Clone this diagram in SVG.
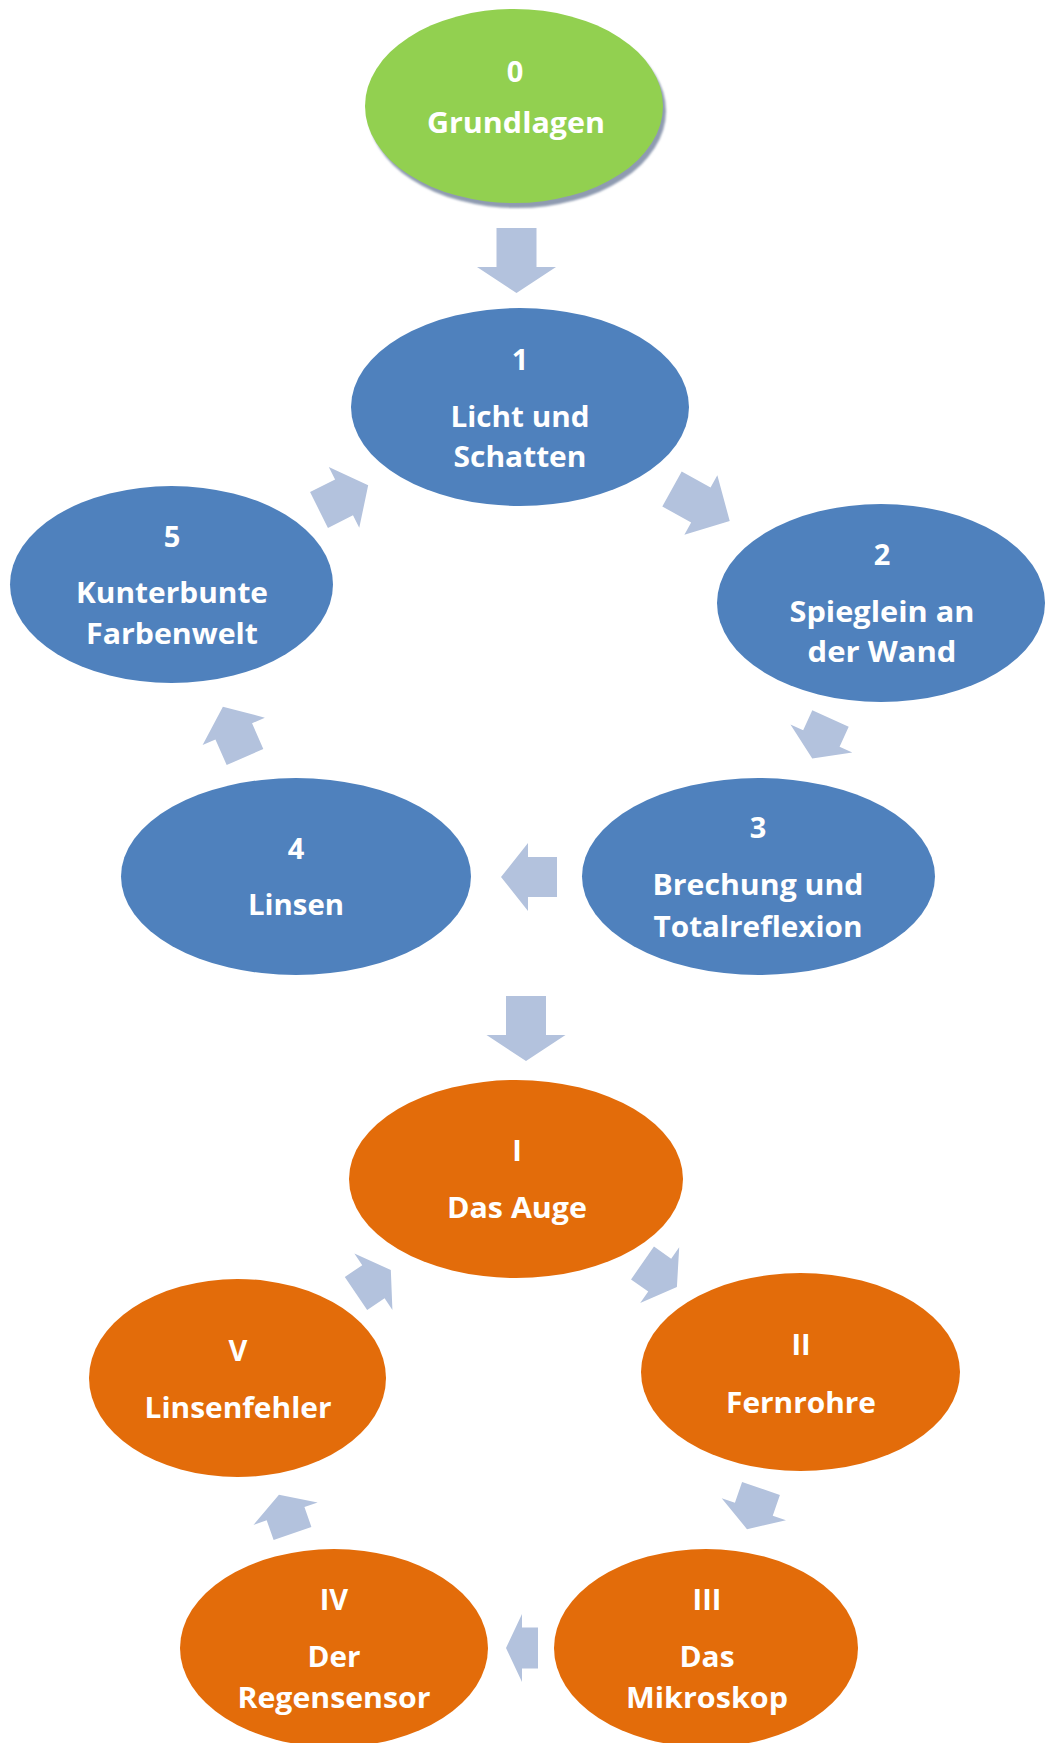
<svg xmlns="http://www.w3.org/2000/svg" width="1045" height="1743" viewBox="0 0 1045 1743">
<style>
.t{font-family:"Open Sans","Liberation Sans",sans-serif;font-weight:bold;font-size:29px;fill:#ffffff;text-anchor:middle}
.blue{fill:#4f81bd}
.orange{fill:#e36c0a}
.green{fill:#92d050}
.arr{fill:#b3c2dd}
</style>
<defs>
<filter id="blur" x="-10%" y="-10%" width="120%" height="120%"><feGaussianBlur stdDeviation="1.2"/></filter>
</defs>
<rect width="1045" height="1743" fill="#ffffff"/>
<g id="connectors">
<polygon class="arr" transform="translate(516.5,228) rotate(90)" points="0,-20 39,-20 39,-39.5 65,0 39,39.5 39,20 0,20"/>
<polygon class="arr" transform="translate(672,489) rotate(29)" points="0,-20 33,-20 33,-34 66,0 33,34 33,20 0,20"/>
<polygon class="arr" transform="translate(830.5,718.5) rotate(114.5)" points="0,-20 22,-20 22,-34 44,0 22,34 22,20 0,20"/>
<polygon class="arr" transform="translate(557,877) rotate(180)" points="0,-20 29,-20 29,-34 56,0 29,34 29,20 0,20"/>
<polygon class="arr" transform="translate(245,757) rotate(-113.7)" points="0,-20 28,-20 28,-34 55,0 28,34 28,20 0,20"/>
<polygon class="arr" transform="translate(319,510) rotate(-26.6)" points="0,-20 28,-20 28,-34 55,0 28,34 28,20 0,20"/>
<polygon class="arr" transform="translate(526,996) rotate(90)" points="0,-20 39,-20 39,-39.5 65,0 39,39.5 39,20 0,20"/>
<polygon class="arr" transform="translate(642.5,1263) rotate(35)" points="0,-20 21,-20 21,-34 42,0 21,34 21,20 0,20"/>
<polygon class="arr" transform="translate(761,1488.5) rotate(109)" points="0,-20 22,-20 22,-34 43,0 22,34 22,20 0,20"/>
<polygon class="arr" transform="translate(538,1648) rotate(180)" points="0,-20.5 16,-20.5 16,-34 32,0 16,34 16,20.5 0,20.5"/>
<polygon class="arr" transform="translate(292.5,1533.5) rotate(-109.3)" points="0,-20 21,-20 21,-34 41,0 21,34 21,20 0,20"/>
<polygon class="arr" transform="translate(356,1293.5) rotate(-34)" points="0,-20 21,-20 21,-34 42,0 21,34 21,20 0,20"/>
</g>
<g id="node0">
<ellipse cx="517" cy="111" rx="149" ry="97" fill="#8f9bb1" filter="url(#blur)"/>
<ellipse class="green" cx="514" cy="106" rx="149" ry="97"/>
<text class="t" x="515" y="82">0</text>
<text class="t" x="516" y="133" textLength="178" lengthAdjust="spacingAndGlyphs">Grundlagen</text>
</g>
<g id="node1">
<ellipse class="blue" cx="520" cy="407" rx="169" ry="99"/>
<text class="t" x="520" y="370">1</text>
<text class="t" x="520" y="427" textLength="139" lengthAdjust="spacingAndGlyphs">Licht und</text>
<text class="t" x="520" y="467" textLength="133" lengthAdjust="spacingAndGlyphs">Schatten</text>
</g>
<g id="node2">
<ellipse class="blue" cx="881" cy="603" rx="164" ry="99"/>
<text class="t" x="882" y="565">2</text>
<text class="t" x="882" y="622" textLength="185" lengthAdjust="spacingAndGlyphs">Spieglein an</text>
<text class="t" x="882" y="662" textLength="149" lengthAdjust="spacingAndGlyphs">der Wand</text>
</g>
<g id="node3">
<ellipse class="blue" cx="758.5" cy="876.5" rx="176.5" ry="98.5"/>
<text class="t" x="758" y="838">3</text>
<text class="t" x="758" y="895" textLength="211" lengthAdjust="spacingAndGlyphs">Brechung und</text>
<text class="t" x="758" y="937" textLength="209" lengthAdjust="spacingAndGlyphs">Totalreflexion</text>
</g>
<g id="node4">
<ellipse class="blue" cx="296" cy="876.5" rx="175" ry="98.5"/>
<text class="t" x="296" y="859">4</text>
<text class="t" x="296" y="915" textLength="96" lengthAdjust="spacingAndGlyphs">Linsen</text>
</g>
<g id="node5">
<ellipse class="blue" cx="171.5" cy="584.5" rx="161.5" ry="98.5"/>
<text class="t" x="172" y="547">5</text>
<text class="t" x="172" y="603" textLength="192" lengthAdjust="spacingAndGlyphs">Kunterbunte</text>
<text class="t" x="172" y="644" textLength="172" lengthAdjust="spacingAndGlyphs">Farbenwelt</text>
</g>
<g id="nodeI">
<ellipse class="orange" cx="516" cy="1179" rx="167" ry="99"/>
<text class="t" x="517" y="1161">I</text>
<text class="t" x="517" y="1218" textLength="140" lengthAdjust="spacingAndGlyphs">Das Auge</text>
</g>
<g id="nodeII">
<ellipse class="orange" cx="800.5" cy="1372" rx="159.5" ry="99"/>
<text class="t" x="801" y="1355">II</text>
<text class="t" x="801" y="1413" textLength="150" lengthAdjust="spacingAndGlyphs">Fernrohre</text>
</g>
<g id="nodeIII">
<ellipse class="orange" cx="706" cy="1648" rx="152" ry="99"/>
<text class="t" x="707" y="1610">III</text>
<text class="t" x="707" y="1667" textLength="55" lengthAdjust="spacingAndGlyphs">Das</text>
<text class="t" x="707" y="1708" textLength="162" lengthAdjust="spacingAndGlyphs">Mikroskop</text>
</g>
<g id="nodeIV">
<ellipse class="orange" cx="334" cy="1648" rx="154" ry="99"/>
<text class="t" x="334" y="1610">IV</text>
<text class="t" x="334" y="1667" textLength="53" lengthAdjust="spacingAndGlyphs">Der</text>
<text class="t" x="334" y="1708" textLength="193" lengthAdjust="spacingAndGlyphs">Regensensor</text>
</g>
<g id="nodeV">
<ellipse class="orange" cx="237.5" cy="1378" rx="148.5" ry="99"/>
<text class="t" x="238" y="1361">V</text>
<text class="t" x="238" y="1418" textLength="187" lengthAdjust="spacingAndGlyphs">Linsenfehler</text>
</g>
</svg>
